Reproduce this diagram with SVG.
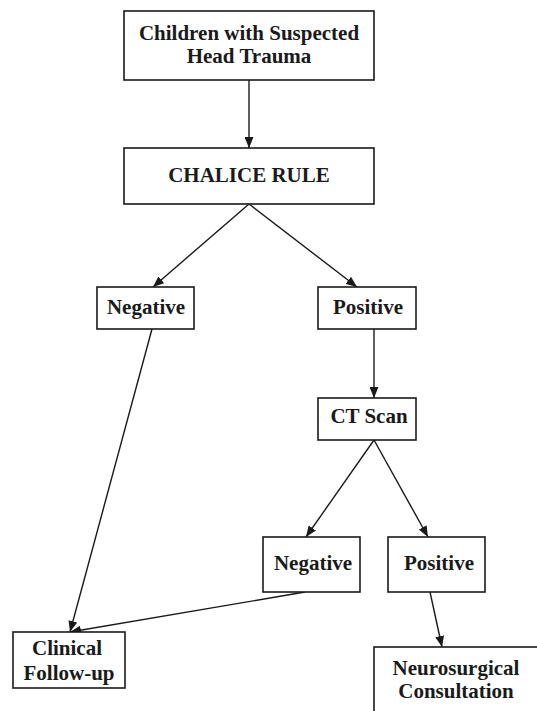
<svg xmlns="http://www.w3.org/2000/svg" width="537" height="711" viewBox="0 0 537 711">
  <style>
    .box { fill: #fff; stroke: #1a1a1a; stroke-width: 1.6; }
    .lbl { font-family: "Liberation Serif", "Times New Roman", serif; font-weight: bold; font-size: 21px; fill: #1a1a1a; text-anchor: middle; }
    .edge { stroke: #1a1a1a; stroke-width: 1.4; fill: none; }
  </style>
  <defs>
    <marker id="arrow" markerUnits="userSpaceOnUse" markerWidth="11" markerHeight="9" refX="11" refY="4.5" orient="auto">
      <path d="M0,0 L11,4.5 L0,9 z" fill="#1a1a1a"/>
    </marker>
  </defs>
  <rect width="537" height="711" fill="#fff"/>

  <!-- connectors -->
  <g id="connectors">
    <line class="edge" x1="249" y1="80" x2="249" y2="148" marker-end="url(#arrow)"/>
    <line class="edge" x1="249" y1="204" x2="153" y2="287" marker-end="url(#arrow)"/>
    <line class="edge" x1="249" y1="204" x2="357" y2="287" marker-end="url(#arrow)"/>
    <line class="edge" x1="374" y1="329" x2="374" y2="398" marker-end="url(#arrow)"/>
    <line class="edge" x1="374" y1="440" x2="306" y2="537" marker-end="url(#arrow)"/>
    <line class="edge" x1="374" y1="440" x2="428" y2="537" marker-end="url(#arrow)"/>
    <line class="edge" x1="152" y1="329" x2="70" y2="632" marker-end="url(#arrow)"/>
    <line class="edge" x1="305" y1="592" x2="70" y2="632" marker-end="url(#arrow)"/>
    <line class="edge" x1="430" y1="592" x2="442" y2="647" marker-end="url(#arrow)"/>
  </g>

  <!-- nodes -->
  <g id="start">
    <rect class="box" x="124" y="11" width="250" height="69"/>
    <text class="lbl" x="249" y="40">Children with Suspected</text>
    <text class="lbl" x="249" y="63">Head Trauma</text>
  </g>
  <g id="rule">
    <rect class="box" x="124" y="148" width="250" height="56"/>
    <text class="lbl" x="249" y="182">CHALICE RULE</text>
  </g>
  <g id="rule-negative">
    <rect class="box" x="97" y="287" width="97" height="42"/>
    <text class="lbl" x="146" y="314">Negative</text>
  </g>
  <g id="rule-positive">
    <rect class="box" x="318" y="287" width="98" height="42"/>
    <text class="lbl" x="368" y="314">Positive</text>
  </g>
  <g id="ct-scan">
    <rect class="box" x="318" y="398" width="98" height="42"/>
    <text class="lbl" x="369" y="423">CT Scan</text>
  </g>
  <g id="ct-negative">
    <rect class="box" x="263" y="537" width="97" height="55"/>
    <text class="lbl" x="313" y="570">Negative</text>
  </g>
  <g id="ct-positive">
    <rect class="box" x="388" y="537" width="97" height="55"/>
    <text class="lbl" x="439" y="570">Positive</text>
  </g>
  <g id="follow-up">
    <rect class="box" x="13" y="632" width="112" height="56"/>
    <text class="lbl" x="67" y="655">Clinical</text>
    <text class="lbl" x="69" y="680">Follow-up</text>
  </g>
  <g id="consultation">
    <rect class="box" x="374" y="647" width="200" height="100"/>
    <text class="lbl" x="456" y="675">Neurosurgical</text>
    <text class="lbl" x="456" y="698">Consultation</text>
  </g>
</svg>
